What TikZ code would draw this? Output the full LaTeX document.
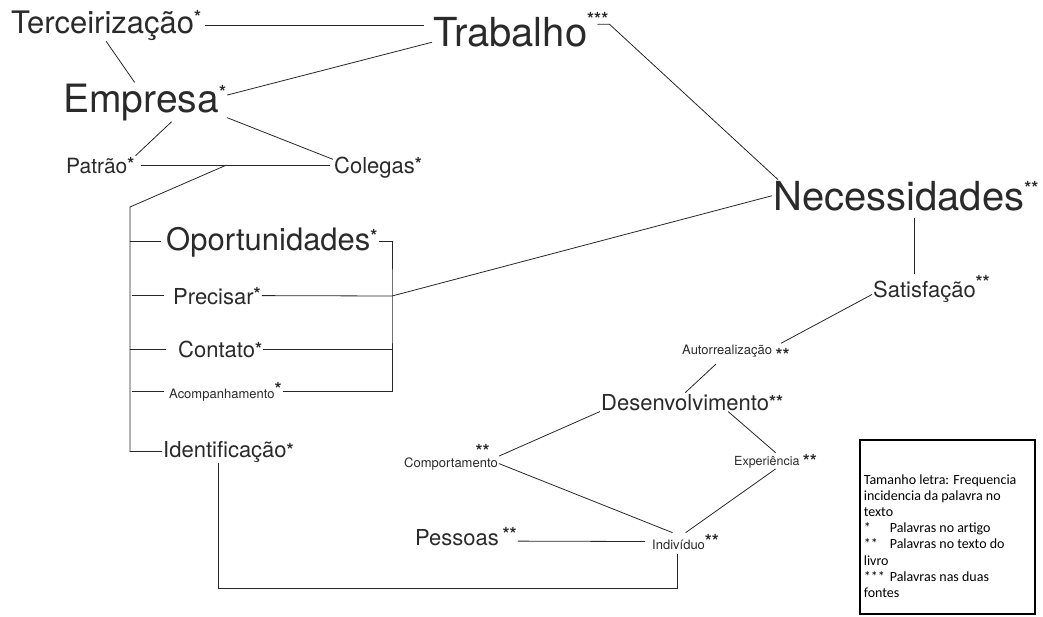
\documentclass[tikz,border=0pt]{standalone}
\usepackage{fontspec}
\setmainfont{TeX Gyre Heros}
\newfontfamily\legfont{Carlito}
\usetikzlibrary{calc}

\definecolor{cinza}{HTML}{2A2A2A}
\newcommand{\tam}[1]{\fontsize{#1}{#1}\selectfont}
\newcommand{\marca}[2]{\raisebox{#1}{\fontsize{18}{18}\selectfont\bfseries #2}}

\begin{document}
\begin{tikzpicture}[
        x=1pt, y=-1pt,
        palavra/.style={inner sep=1pt, anchor=base west, text=cinza},
        ligacao/.style={draw=black!85, line width=0.8pt},
        legenda/.style={draw, line width=2.6pt, anchor=north west, minimum width=175pt,
            minimum height=174pt, inner xsep=4pt, text width=167pt, align=flush left,
            font={\legfont\fontsize{14}{16.2}\selectfont}}
    ]
    \useasboundingbox (0,0) rectangle (1043,616);

    \node[palavra, font={\tam{31}}] (terc) at (10,33) {Terceirização\marca{10pt}{*}};
    \node[palavra, font={\tam{40}}] (trab) at (432,46) {Trabalho\marca{21pt}{***}};
    \node[palavra, font={\tam{39}}] (emp) at (62,112) {Empresa\marca{14pt}{*}};
    \node[palavra, font={\tam{21}}] (patrao) at (65,173) {Patrão\marca{3pt}{*}};
    \node[palavra, font={\tam{22}}] (colegas) at (333,173) {Colegas\marca{3pt}{*}};
    \node[palavra, font={\tam{40}}] (neces) at (772,210) {Necessidades\marca{16pt}{**}};
    \node[palavra, font={\tam{31}}] (opor) at (165,250) {Oportunidades\marca{8pt}{*}};
    \node[palavra, font={\tam{22}}] (precisar) at (172,304) {Precisar\marca{4pt}{*}};
    \node[palavra, font={\tam{22}}] (contato) at (177,357) {Contato\marca{2pt}{*}};
    \node[palavra, font={\tam{13}}] (acomp) at (168,398) {Acompanhamento\marca{3pt}{*}};
    \node[palavra, font={\tam{22}}] (ident) at (162,457) {Identificação\marca{1pt}{*}};
    \node[palavra, font={\tam{22}}] (satisf) at (872,297) {Satisfação\marca{9pt}{**}};
    \node[palavra, font={\tam{13}}] (autor) at (681,354) {Autorrealização \marca{-7pt}{**}};
    \node[palavra, font={\tam{22}}] (desenv) at (600,410) {Desenvolvimento\marca{2pt}{**}};
    \node[palavra, font={\tam{13}}] (comport) at (403,467) {Comportamento\llap{\smash{\marca{10pt}{**}}\hspace{8pt}}};
    \node[palavra, font={\tam{12.5}}] (exper) at (733,465) {Experiência \marca{-2pt}{**}};
    \node[palavra, font={\tam{22}}] (pessoas) at (414,545) {Pessoas\,\marca{5pt}{**}};
    \node[palavra, font={\tam{13}}] (indiv) at (651,549) {Indivíduo\marca{2pt}{**}};

    % ligacoes de cima
    \draw[ligacao, shorten <=3pt, shorten >=8pt] (terc.east) -- (terc.east -| trab.west);
    \draw[ligacao] ([yshift=-13pt]trab.west) -- ([yshift=7pt]emp.east);
    \draw[ligacao] (terc.south) -- ([xshift=-10pt]emp.north);
    \draw[ligacao] ([xshift=27pt]emp.south) -- (patrao.north east);
    \draw[ligacao] ([yshift=4pt]emp.south east) -- ([yshift=-4pt]colegas.north west);
    \draw[ligacao, shorten <=5pt, shorten >=3pt] (patrao.east) -- coordinate[pos=.46] (ramo) (patrao.east -| colegas.west);

    % chave da esquerda
    \coordinate (canto) at (130,207);
    \draw[ligacao] (ramo) -- (canto) |- (ident.west);
    \draw[ligacao, shorten >=4pt] (canto |- opor.west) -- (opor.west);
    \draw[ligacao, shorten <=2pt, shorten >=8pt] (canto |- precisar.west) -- (precisar.west);
    \draw[ligacao, shorten >=11pt] (canto |- contato.west) -- (contato.west);
    \draw[ligacao, shorten <=2pt, shorten >=4pt] (canto |- acomp.west) -- (acomp.west);

    % chave da direita
    \coordinate (barra) at (392,296);
    \draw[ligacao] (opor.east) -| (barra) |- (acomp.east);
    \draw[ligacao] (precisar.east) -- (barra) -- (neces.west);
    \draw[ligacao] (contato.east) -- (contato.east -| barra);

    % necessidades e abaixo
    \draw[ligacao] ([xshift=-12pt,yshift=5pt]trab.east) -- ([yshift=5pt]trab.east) -- ([xshift=6pt]neces.north west);
    \draw[ligacao, shorten <=6pt] ($(neces.south)+(9,0)$) -- ($(neces.south |- satisf.north)+(9,0)$);
    \draw[ligacao] ([yshift=-6pt]satisf.west) -- ([xshift=-10pt]autor.north east);
    \draw[ligacao, shorten <=3pt] ([xshift=-18pt]autor.south) -- ([xshift=-7pt]desenv.north);
    \draw[ligacao] (desenv.south west) -- (comport.north east);
    \draw[ligacao] ([xshift=36pt]desenv.south) -- (exper.north);
    \draw[ligacao] (comport.east) -- ([xshift=-13pt]indiv.north);
    \draw[ligacao] (exper.south) -- (indiv.north);
    \draw[ligacao, shorten >=6pt] ([yshift=-5pt]pessoas.east) -- (indiv.west);
    \coordinate (rodape) at (218,588);
    \draw[ligacao, shorten <=4pt] ([xshift=-8pt]indiv.south) |- (rodape) -- (rodape |- ident.south);

    % legenda
    \node[legenda] (leg) at (858.5,438.5) {\rule{0pt}{28pt}Tamanho letra: Frequencia\\
        incidencia da palavra no\\
        texto\\
        \makebox[26pt][l]{*}Palavras no artigo\\
        \makebox[26pt][l]{**}Palavras no texto do\\
        livro\\
        \makebox[26pt][l]{***}Palavras nas duas\\
        fontes};
\end{tikzpicture}
\end{document}
